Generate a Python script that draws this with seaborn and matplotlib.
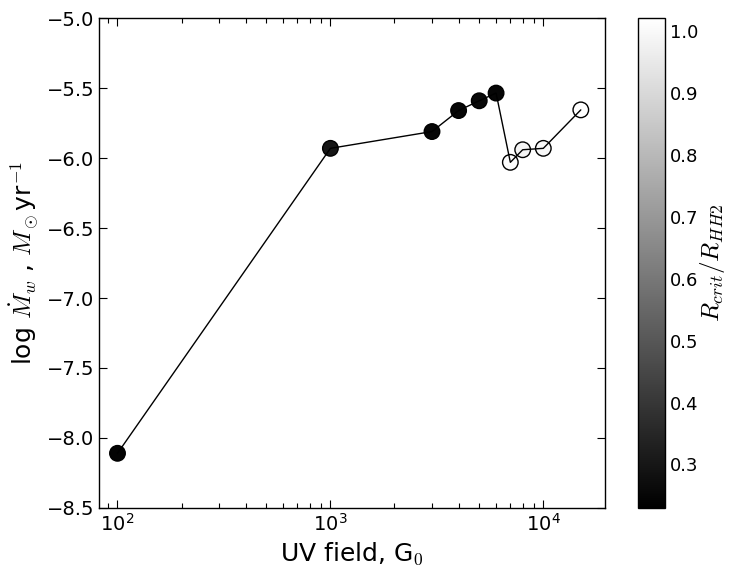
import matplotlib
matplotlib.use("Agg")
import matplotlib.pyplot as plt
import seaborn as sns
import numpy as np
import pandas as pd
from matplotlib.colors import Normalize
from matplotlib.cm import ScalarMappable
from matplotlib.ticker import LogLocator, NullFormatter, FixedLocator

uv_field = [100, 1000, 3000, 4000, 5000, 6000, 7000, 8000, 10000, 15000]
log_mdot = [-8.11, -5.93, -5.81, -5.66, -5.59, -5.535, -6.03, -5.94, -5.93, -5.655]
r_ratio = [0.24, 0.30, 0.25, 0.25, 0.26, 0.25, 1.01, 0.985, 1.0, 1.02]
cbar_ticks = [0.3, 0.4, 0.5, 0.6, 0.7, 0.8, 0.9, 1.0]
y_ticks = [-8.5, -8.0, -7.5, -7.0, -6.5, -6.0, -5.5, -5.0]

df = pd.DataFrame({"uv": uv_field, "mdot": log_mdot, "r": r_ratio})

sns.set_style("ticks", {"xtick.direction": "in", "ytick.direction": "in"})
plt.rcParams["font.family"] = ["DejaVu Sans"]
plt.rcParams["mathtext.fontset"] = "cm"
plt.rcParams["xtick.minor.size"] = 3.5
plt.rcParams["xtick.minor.width"] = 0.8
for k in ["text.color", "axes.labelcolor", "xtick.color", "ytick.color", "axes.edgecolor"]:
    plt.rcParams[k] = "black"

fig = plt.figure(figsize=(7.29, 5.70), dpi=100)
ax = fig.add_axes([0.136, 0.109, 0.694, 0.859])
cax = fig.add_axes([0.875, 0.109, 0.037, 0.859])

vmin, vmax = 0.23, 1.02
norm = Normalize(vmin=vmin, vmax=vmax)
cmap = plt.get_cmap("gray")

sns.scatterplot(data=df, x="uv", y="mdot", hue="r", palette="gray", hue_norm=norm,
                s=125, edgecolor="black", linewidth=1.0, ax=ax, legend=False, zorder=2)
sns.lineplot(data=df, x="uv", y="mdot", ax=ax, color="black", lw=1.0, sort=False, zorder=3)

ax.set_xscale("log")
ax.set_xlim(82, 19500)
ax.set_ylim(-8.5, -5.0)
minor_pos = [m * 10 ** e for e in (1, 2, 3, 4) for m in range(2, 10)]
ax.xaxis.set_minor_locator(FixedLocator(minor_pos))
ax.xaxis.set_minor_formatter(NullFormatter())
ax.set_yticks(y_ticks)
ax.set_yticklabels([f"{t:.1f}".replace("-", "\u2212") for t in y_ticks])
ax.tick_params(axis="both", which="both", top=True, right=True, direction="in",
               labelsize=14, colors="black")
ax.tick_params(axis="both", which="major", length=6, width=0.8)
ax.tick_params(axis="x", which="minor", length=3.5, width=0.8)
ax.set_xlabel("UV field, G$_{0}$", fontsize=18)
ax.set_ylabel(r"log $\dot{M}_w$ , $M_\odot$yr$^{-1}$", fontsize=18)
for sp in ax.spines.values():
    sp.set_linewidth(1.0)
    sp.set_color("black")

sm = ScalarMappable(norm=norm, cmap=cmap)
cb = fig.colorbar(sm, cax=cax, ticks=cbar_ticks)
cb.ax.tick_params(labelsize=13, direction="in", length=5, colors="black")
cb.set_label(r"$R_{crit}/R_{HH2}$", fontsize=18, labelpad=0)
cb.outline.set_linewidth(1.0)

fig.savefig("out.png", dpi=100)
